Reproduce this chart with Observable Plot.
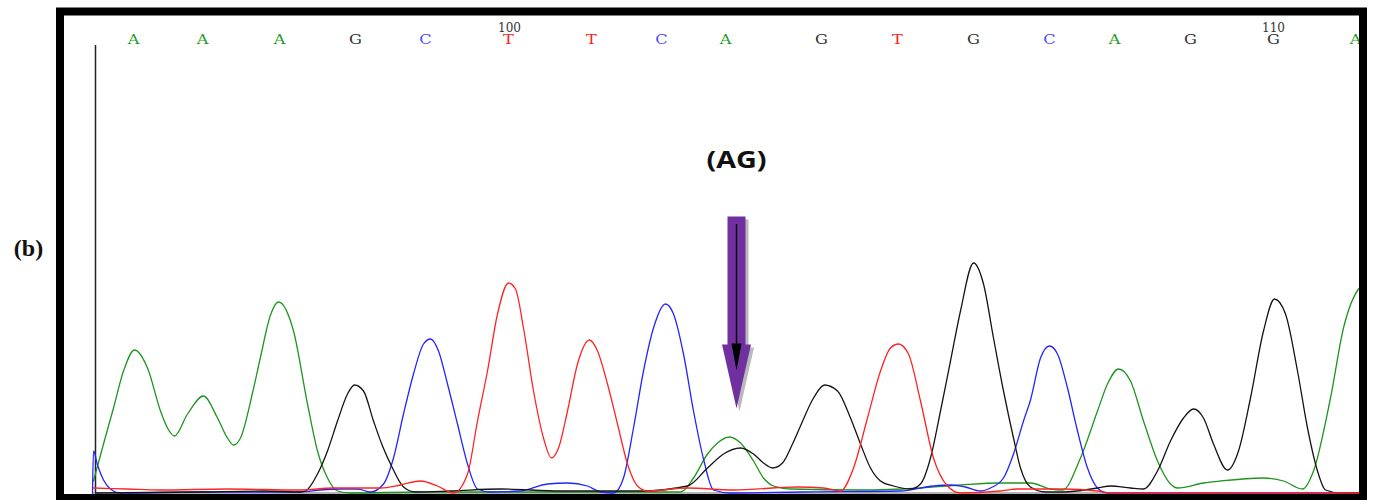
<!DOCTYPE html>
<html><head><meta charset="utf-8">
<script src="https://cdn.jsdelivr.net/npm/d3@7"></script>
<script src="https://cdn.jsdelivr.net/npm/@observablehq/plot@0.6"></script>
<style>html,body{margin:0;padding:0;background:#fff;} svg{display:block}</style>
</head><body><div id="chart"></div>
<script>
// ---- base calls (top row) ----
const baseLetters = ["A","A","A","G","C","T","T","C","A","G","T","G","C","A","G","G","A"];
const baseScans   = [38,107,184,260,330,413,496,566,630,726,802,878,954,1019,1095,1178,1260];
const baseNumbers = ["100","110"];
const baseNumberScans = [414,1178];

// ---- trace samples [scan, signal] ----
const traceA = [[-2,120],[8,490],[18,850],[28,1220],[39,1430],[52,1250],[65,820],[72,650],[79,570],[92,790],[108,970],[122,750],[132,550],[138,480],[145,550],[157,1000],[165,1360],[175,1780],[183,1910],[198,1620],[212,890],[222,420],[232,150],[242,20],[255,0],[325,10],[405,10],[505,10],[585,10],[598,150],[612,390],[622,500],[634,560],[645,500],[658,320],[668,150],[678,70],[695,40],[765,30],[825,50],[865,80],[905,100],[935,100],[955,40],[967,30],[985,350],[1002,820],[1012,1090],[1023,1240],[1035,1120],[1048,720],[1062,320],[1075,90],[1082,50],[1108,100],[1125,120],[1168,150],[1188,120],[1207,40],[1218,220],[1235,950],[1248,1650],[1263,2040],[1271,2100]];
const traceG = [[0,0],[105,10],[168,20],[205,10],[210,20],[222,190],[232,420],[242,720],[252,990],[259,1080],[268,1020],[278,720],[287,470],[296,270],[308,60],[320,10],[355,20],[405,40],[465,20],[545,20],[592,70],[612,250],[628,390],[645,450],[658,390],[668,300],[677,250],[687,300],[697,490],[705,670],[718,950],[729,1080],[742,1020],[755,750],[765,490],[775,250],[785,120],[798,70],[815,40],[825,90],[835,350],[845,820],[855,1320],[865,1820],[878,2300],[888,2090],[898,1550],[908,1020],[918,550],[925,250],[935,60],[950,10],[968,10],[1002,50],[1015,70],[1035,50],[1048,40],[1062,220],[1075,520],[1088,750],[1098,840],[1108,750],[1118,490],[1132,230],[1143,420],[1155,950],[1168,1620],[1179,1940],[1190,1790],[1202,1220],[1212,650],[1222,220],[1230,30],[1245,0],[1271,0]];
const traceC = [[-3,0],[-2,420],[2,280],[8,130],[15,40],[25,0],[105,10],[205,10],[225,30],[245,40],[262,40],[275,10],[288,90],[298,350],[308,790],[318,1190],[328,1490],[335,1540],[343,1420],[352,1090],[362,690],[372,290],[382,40],[395,10],[425,20],[452,90],[472,100],[492,70],[505,10],[518,0],[528,150],[538,650],[548,1220],[558,1650],[570,1890],[578,1790],[588,1390],[598,820],[608,340],[618,30],[635,0],[705,10],[805,20],[838,70],[855,80],[870,60],[885,20],[895,50],[908,150],[918,390],[928,720],[935,930],[945,1350],[954,1470],[962,1390],[972,1050],[982,620],[992,250],[1002,50],[1012,0],[1271,0]];
const traceT = [[-2,50],[32,40],[65,30],[132,40],[205,30],[238,50],[285,50],[305,80],[325,120],[342,70],[358,0],[372,190],[382,720],[392,1220],[402,1790],[413,2100],[420,2040],[428,1650],[438,1020],[448,550],[456,350],[463,450],[472,820],[482,1290],[494,1530],[502,1420],[512,1090],[522,690],[532,290],[542,70],[552,20],[592,50],[638,30],[702,60],[728,50],[745,20],[758,250],[772,750],[785,1220],[795,1450],[803,1490],[813,1390],[825,920],[838,350],[852,70],[865,0],[905,20],[922,40],[958,40],[968,40],[1002,20],[1015,0],[1271,0]];

// ---- annotation ----
const markLabel = "(AG)";
const markScan = 641;
const markLabelSignal = 3325;
const arrowTop = 2765, arrowHeadBase = 1485, arrowTip = 845;
const innerTop = 2685, innerHeadBase = 1495, innerTip = 1225;
const traceStart = 0, traceLineTop = 4475;

const channels = ["A","C","G","T"];
const traceColors = ["#1f951f","#2424ff","#141414","#ff2424"];
const letterColors = {A:"#1f9a1f", C:"#4a4aff", G:"#333333", T:"#ff2020"};

const traces = [["A",traceA],["C",traceC],["G",traceG],["T",traceT]]
  .flatMap(([ch, pts]) => pts.map(([scan, signal]) => ({ch, scan, signal})));

const sh = 9, hh = 14.5;
const arrowShape = [[markScan-sh,arrowTop],[markScan+sh,arrowTop],[markScan+sh,arrowHeadBase],[markScan+hh,arrowHeadBase],[markScan,arrowTip],[markScan-hh,arrowHeadBase],[markScan-sh,arrowHeadBase],[markScan-sh,arrowTop]];
const innerHead = [[markScan-5,innerHeadBase],[markScan+5,innerHeadBase],[markScan,innerTip],[markScan-5,innerHeadBase]];

const letterMarks = channels.map(b => Plot.text(baseLetters, {
  filter: d => d === b, x: baseScans, text: d => d, frameAnchor: "top", dy: 24,
  fill: letterColors[b], fontFamily: "DejaVu Serif", fontSize: 12, textAnchor: "middle"
}));

const plot = Plot.plot({
  width: 1384, height: 500,
  marginLeft: 59.5, marginRight: 21.5, marginTop: 11, marginBottom: 2.5,
  x: {domain: [-35.5, 1267.5], axis: null},
  y: {domain: [-50, 4815], axis: null},
  color: {domain: channels, range: traceColors},
  style: {background: "white", overflow: "visible"},
  marks: [
    Plot.ruleY([0], {x1: -3, x2: 1275, stroke: "#9a9a9a", strokeWidth: 1.5, clip: true}),
    Plot.ruleX([traceStart], {y1: 0, y2: traceLineTop, stroke: "#222", strokeWidth: 1.5}),
    Plot.line(traces, {x: "scan", y: "signal", z: "ch", stroke: "ch", curve: "monotone-x", strokeWidth: 1.3, clip: true}),
    ...letterMarks,
    Plot.text(baseNumbers, {x: baseNumberScans, text: d => d, frameAnchor: "top", dy: 11.5, fill: "#333", fontFamily: "DejaVu Serif", fontSize: 12, textAnchor: "middle"}),
    Plot.line(arrowShape, {x: d => d[0], y: d => d[1], fill: "#b9b9b9", stroke: "none", dx: 3, dy: 3}),
    Plot.line(arrowShape, {x: d => d[0], y: d => d[1], fill: "#7030a0", stroke: "none"}),
    Plot.ruleX([markScan], {y1: innerTop, y2: innerHeadBase - 60, stroke: "black", strokeWidth: 1.4}),
    Plot.line(innerHead, {x: d => d[0], y: d => d[1], fill: "black", stroke: "none"}),
    Plot.text([{scan: markScan, signal: markLabelSignal, label: markLabel}], {x: "scan", y: "signal", text: "label", fontFamily: "Open Sans", fontWeight: "bold", fontSize: 23, fill: "#111", textAnchor: "middle"}),
    Plot.text(["(b)"], {frameAnchor: "left", dx: -31.5, dy: -6, text: d => d, fontFamily: "Liberation Serif", fontWeight: "bold", fontSize: 24, fill: "#111", textAnchor: "middle"}),
    Plot.frame({stroke: "black", strokeWidth: 8})
  ]
});

d3.select(plot).selectAll("text").each(function() {
  const t = this.textContent;
  let s = null;
  if (/^[ACGT]$/.test(t)) s = 1.35;
  else if (t === markLabel) s = 1.25;
  if (s) this.setAttribute("transform", (this.getAttribute("transform") || "") + ` scale(${s},1)`);
});

document.getElementById("chart").appendChild(plot);
</script>
</body></html>
